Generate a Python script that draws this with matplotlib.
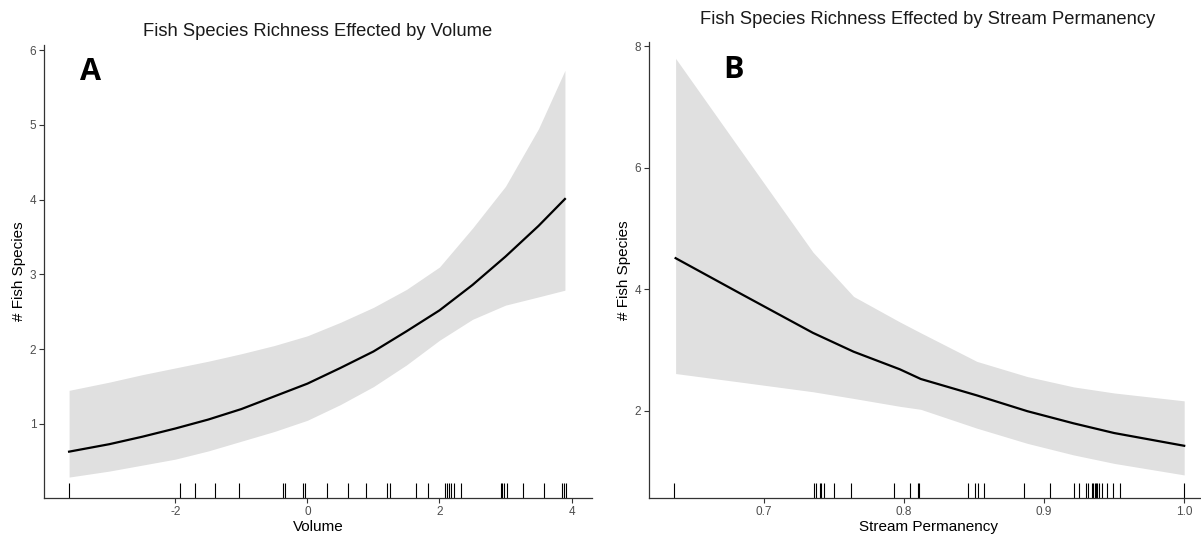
import numpy as np
import matplotlib
matplotlib.use("Agg")
import matplotlib.pyplot as plt
import matplotlib.transforms as mtransforms

plt.rcParams['font.family'] = ['Liberation Sans', 'DejaVu Sans']
plt.rcParams['axes.unicode_minus'] = False

# panel A: fitted richness vs volume
vol_x = [-3.61, -3.0, -2.5, -2.0, -1.5, -1.0, -0.5, 0.0, 0.5, 1.0, 1.5, 2.0,
         2.5, 3.0, 3.5, 3.90]
vol_fit = [0.63, 0.73, 0.83, 0.94, 1.06, 1.20, 1.37, 1.54, 1.75, 1.97, 2.24,
           2.52, 2.86, 3.24, 3.65, 4.01]
vol_upr = [1.45, 1.56, 1.66, 1.75, 1.84, 1.94, 2.05, 2.18, 2.36, 2.56, 2.80,
           3.10, 3.62, 4.18, 4.95, 5.73]
vol_lwr = [0.29, 0.37, 0.45, 0.53, 0.64, 0.77, 0.90, 1.05, 1.26, 1.50, 1.79,
           2.12, 2.40, 2.59, 2.70, 2.79]
vol_rug = [-3.61, -1.93, -1.70, -1.40, -1.04, -0.37, -0.34, -0.06, -0.04, 0.29,
           0.61, 0.89, 1.21, 1.25, 1.64, 1.83, 2.09, 2.12, 2.15, 2.18, 2.22,
           2.32, 2.93, 2.95, 2.98, 3.03, 3.27, 3.58, 3.86, 3.89, 3.91]

# panel B: fitted richness vs stream permanency
perm_x = [0.637, 0.683, 0.735, 0.764, 0.797, 0.812, 0.852, 0.888, 0.921, 0.950, 1.0]
perm_fit = [4.51, 3.93, 3.28, 2.97, 2.68, 2.52, 2.25, 1.99, 1.79, 1.63, 1.42]
perm_upr = [7.80, 6.30, 4.61, 3.88, 3.46, 3.28, 2.81, 2.56, 2.39, 2.29, 2.16]
perm_lwr = [2.61, 2.47, 2.31, 2.20, 2.07, 2.02, 1.71, 1.46, 1.27, 1.13, 0.94]
perm_rug = [0.636, 0.736, 0.737, 0.740, 0.741, 0.743, 0.750, 0.762, 0.793, 0.804,
            0.810, 0.811, 0.846, 0.851, 0.853, 0.857, 0.886, 0.904, 0.921, 0.925,
            0.930, 0.931, 0.934, 0.935, 0.936, 0.937, 0.938, 0.939, 0.941, 0.945,
            0.949, 0.954, 1.000]

W, H = 1201, 541
fig = plt.figure(figsize=(W / 100, H / 100), dpi=100)


def px_axes(l, r, t, b):
    return fig.add_axes([l / W, 1 - b / H, (r - l) / W, (b - t) / H])


def style(ax):
    for s in ['top', 'right']:
        ax.spines[s].set_visible(False)
    for s in ['left', 'bottom']:
        ax.spines[s].set_color('#333333')
        ax.spines[s].set_linewidth(0.9)
    ax.tick_params(length=3.5, width=0.8, color='#333333', labelcolor='#4d4d4d',
                   labelsize=8.5, pad=2)


def panel(ax, x, fit, lwr, upr, rug):
    ax.fill_between(x, lwr, upr, color='#e0e0e0', lw=0)
    ax.plot(x, fit, color='black', lw=1.6)
    trans = mtransforms.blended_transform_factory(ax.transData, ax.transAxes)
    ax.vlines(rug, 0, 0.033, transform=trans, color='black', lw=0.8)
    style(ax)


axA = px_axes(44, 592, 45, 498)
panel(axA, vol_x, vol_fit, vol_lwr, vol_upr, vol_rug)
axA.set_xlim(-3.99, 4.31)
axA.set_ylim(0.01, 6.07)
axA.set_xticks([-2, 0, 2, 4])
axA.set_yticks([1, 2, 3, 4, 5, 6])
axA.set_xlabel('Volume', fontsize=11, labelpad=2)
axA.set_ylabel('# Fish Species', fontsize=11, labelpad=3)
fig.text(318 / W, 1 - 32 / H, 'Fish Species Richness Effected by Volume',
         ha='center', va='center', fontsize=13.2, color='#1a1a1a')
fig.text(80 / W, 1 - 72 / H, 'A', ha='left', va='center', fontsize=22,
         fontweight='bold', family=['Open Sans', 'DejaVu Sans'])

axB = px_axes(649, 1208, 42, 498)
panel(axB, perm_x, perm_fit, perm_lwr, perm_upr, perm_rug)
axB.set_xlim(0.618, 1.017)
axB.set_ylim(0.56, 8.07)
axB.set_xticks([0.7, 0.8, 0.9, 1.0])
axB.set_xticklabels(['0.7', '0.8', '0.9', '1.0'])
axB.set_yticks([2, 4, 6, 8])
axB.set_xlabel('Stream Permanency', fontsize=11, labelpad=2)
axB.set_ylabel('# Fish Species', fontsize=11, labelpad=3)
fig.text(928 / W, 1 - 20 / H, 'Fish Species Richness Effected by Stream Permanency',
         ha='center', va='center', fontsize=13.2, color='#1a1a1a')
fig.text(723 / W, 1 - 70 / H, 'B', ha='left', va='center', fontsize=22,
         fontweight='bold', family=['Open Sans', 'DejaVu Sans'])

fig.savefig('out.png', dpi=100)
